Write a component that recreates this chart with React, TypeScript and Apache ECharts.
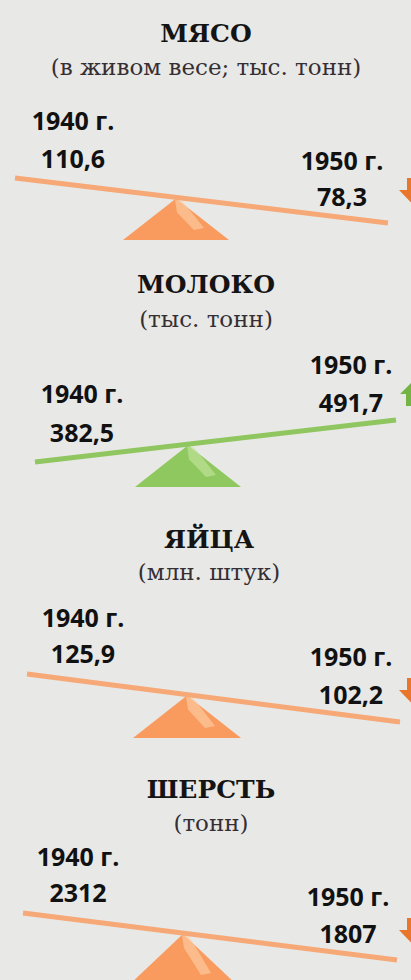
import React, { useEffect, useRef } from 'react';
import * as echarts from 'echarts';

const categories = ['МЯСО', 'МОЛОКО', 'ЯЙЦА', 'ШЕРСТЬ'];
const units = ['(в живом весе; тыс. тонн)', '(тыс. тонн)', '(млн. штук)', '(тонн)'];
const years = [1940, 1950];
const values1940 = [110.6, 382.5, 125.9, 2312];
const values1950 = [78.3, 491.7, 102.2, 1807];

const ORANGE = { lever: '#f6a877', tri: '#f99b5f', hl: '#fcd0a8', arrow: '#e8772c' };
const GREEN = { lever: '#8fc65f', tri: '#8ec85e', hl: '#c6e6a2', arrow: '#74b444' };

const layout = [
  { titleY: 33, subY: 67, cx: 206, grid: { left: 15, right: 23, top: 178, height: 45 }, fx: 176, baseY: 240, half: 53,
    l: [58, -58, -20], r: [-46, -63, -27], col: ORANGE, arrowY: 180 },
  { titleY: 284, subY: 319, cx: 206, grid: { left: 35, right: 15, top: 420, height: 42 }, fx: 188, baseY: 487, half: 53,
    l: [47, -69, -30], r: [-45, -56, -18], col: GREEN, arrowY: 400 },
  { titleY: 539, subY: 572, cx: 209, grid: { left: 27, right: 11, top: 674, height: 48 }, fx: 187, baseY: 738, half: 54,
    l: [56, -57, -21], r: [-49, -66, -28], col: ORANGE, arrowY: 680 },
  { titleY: 789, subY: 823, cx: 211, grid: { left: 23, right: 14, top: 913, height: 47 }, fx: 183, baseY: 985, half: 54,
    l: [55, -57, -21], r: [-49, -64, -27], col: ORANGE, arrowY: 920 },
];

const fmt = (v: number) => String(v).replace('.', ',');

export default function App() {
  const ref = useRef<HTMLDivElement>(null);
  useEffect(() => {
    document.body.style.margin = '0';
    const chart = echarts.init(ref.current!, null, { renderer: 'svg' });
    const grid = layout.map((L) => ({ left: L.grid.left, right: L.grid.right, top: L.grid.top, height: L.grid.height }));
    const xAxis = layout.map((_, i) => ({ type: 'value', gridIndex: i, min: years[0], max: years[1], show: false }));
    const yAxis = layout.map((_, i) => ({ type: 'value', gridIndex: i, min: 'dataMin', max: 'dataMax', show: false, splitLine: { show: false } }));
    const series = categories.map((c, i) => ({
      type: 'line',
      name: c,
      xAxisIndex: i,
      yAxisIndex: i,
      data: [[years[0], values1940[i]], [years[1], values1950[i]]],
      symbol: 'none',
      clip: false,
      silent: true,
      z: 3,
      lineStyle: { width: 5, color: layout[i].col.lever, cap: 'butt' },
    }));
    chart.setOption({ animation: false, backgroundColor: '#e8e8e6', grid, xAxis, yAxis, series });

    const g: any[] = [];
    categories.forEach((c, i) => {
      const L = layout[i];
      const p0 = chart.convertToPixel({ gridIndex: i }, [years[0], values1940[i]]) as number[];
      const p1 = chart.convertToPixel({ gridIndex: i }, [years[1], values1950[i]]) as number[];
      g.push({ type: 'text', x: L.cx, y: L.titleY, z: 10,
        style: { text: c, fill: '#141414', font: 'bold 25px "DejaVu Serif"', align: 'center', verticalAlign: 'middle' } });
      g.push({ type: 'text', x: L.cx, y: L.subY, z: 10,
        style: { text: units[i], fill: '#352e33', font: '23px "DejaVu Serif"', align: 'center', verticalAlign: 'middle' } });
      const lab = (p: number[], o: number[], yr: number, v: number) => {
        g.push({ type: 'text', x: p[0] + o[0], y: p[1] + o[1], z: 10,
          style: { text: yr + ' г.', fill: '#111', font: 'bold 25px "Open Sans"', align: 'center', verticalAlign: 'middle' } });
        g.push({ type: 'text', x: p[0] + o[0], y: p[1] + o[2], z: 10,
          style: { text: fmt(v), fill: '#111', font: 'bold 25px "Open Sans"', align: 'center', verticalAlign: 'middle' } });
      };
      lab(p0, L.l, years[0], values1940[i]);
      lab(p1, L.r, years[1], values1950[i]);
      const t = (L.fx - p0[0]) / (p1[0] - p0[0]);
      const ay = p0[1] + t * (p1[1] - p0[1]) + 1;
      const ax = L.fx;
      g.push({ type: 'polygon', z: 1,
        shape: { points: [[ax, ay], [ax + L.half, L.baseY], [ax - L.half, L.baseY]] },
        style: { fill: L.col.tri } });
      g.push({ type: 'polygon', z: 2,
        shape: { points: [[ax - 1, ay + 1], [ax + 6, ay + 2], [ax + 28, L.baseY - 12], [ax + 18, L.baseY - 10], [ax + 1, ay + 14]] },
        style: { fill: L.col.hl, opacity: 0.6 } });
      const up = values1950[i] > values1940[i];
      const y0 = L.arrowY;
      const pts = up
        ? [[406, y0 + 6], [406, y0 - 6], [400, y0 - 6], [424, y0 - 30], [448, y0 - 6], [442, y0 - 6], [442, y0 + 6]]
        : [[407, y0 - 2], [407, y0 + 10], [399, y0 + 10], [424, y0 + 36], [449, y0 + 10], [441, y0 + 10], [441, y0 - 2]];
      g.push({ type: 'polygon', z: 2, shape: { points: pts }, style: { fill: L.col.arrow } });
    });
    chart.setOption({ graphic: g });
    return () => chart.dispose();
  }, []);
  return <div ref={ref} style={{ position: 'absolute', left: 0, top: 0, width: 411, height: 980 }} />;
}
